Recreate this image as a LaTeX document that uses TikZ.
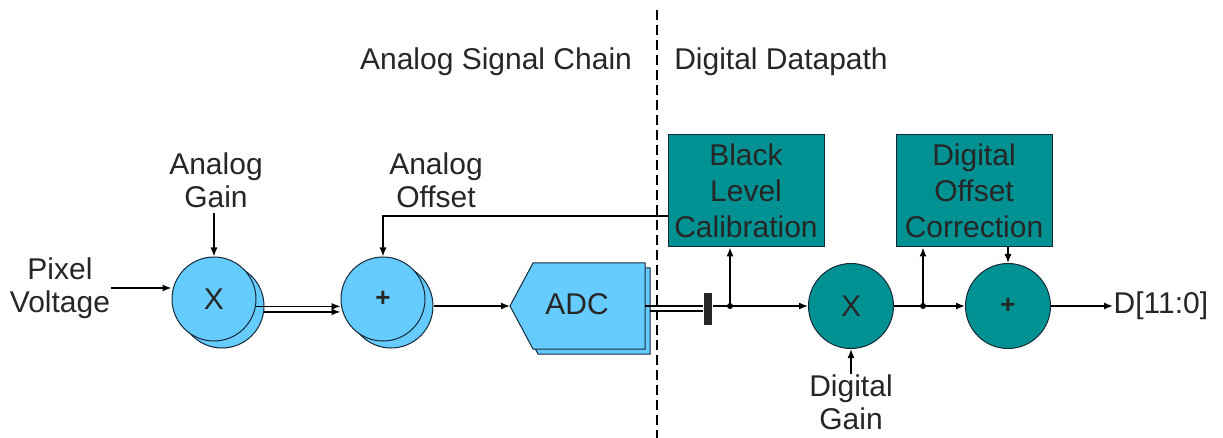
\documentclass[tikz,border=0pt]{standalone}
\usepackage{fontspec}
\setmainfont{Liberation Sans}
\usetikzlibrary{arrows.meta,calc}
\definecolor{lblue}{RGB}{102,204,255}
\definecolor{tealx}{RGB}{0,146,146}
\definecolor{edgec}{RGB}{20,40,55}
\begin{document}
\begin{tikzpicture}[x=1pt,y=-1pt, line width=1.4pt,
  every node/.style={font=\fontsize{30}{33}\selectfont, align=center, inner sep=0pt, text=black!85},
  arr/.style={-{Latex[length=9pt,width=7pt]}},
  acirc/.style={circle, draw=edgec, fill=lblue, minimum size=84pt, line width=1pt},
  dcirc/.style={circle, draw=edgec, fill=tealx, minimum size=85pt, line width=1pt},
  dbox/.style={rectangle, draw=edgec, fill=tealx, minimum width=156pt, minimum height=112pt, line width=1pt, font=\fontsize{30}{36}\selectfont},
  jdot/.style={circle, fill=black, minimum size=6pt, inner sep=0pt},
  plusfont/.style={font=\fontsize{26}{30}\selectfont\bfseries}
]
\path[use as bounding box] (0,0) rectangle (1223,438);

% divider
\draw[line width=1.2pt, dash pattern=on 10pt off 5pt] (657,10) -- (657,438);

% headers
\node[anchor=base] (hA) at (496,70) {Analog Signal Chain};
\node[anchor=base] (hD) at (781,70) {Digital Datapath};

% analog circles (shadow first)
\node[acirc] (gain1s) at (222,306) {};
\node[acirc] (gain1) at (214,299) {X};
\node[acirc] (off1s) at (391,306) {};
\node[acirc, plusfont] (off1) at (383,299) {+};

% ADC
\coordinate (adctip) at (510,306);
\coordinate (adcr) at (645,306);
\coordinate (adcrs) at (650,311);
\fill[lblue, draw=edgec, line width=1pt] (515,311) -- (538,268) -- (650,268) -- (650,354) -- (538,354) -- cycle;
\fill[lblue, draw=edgec, line width=1pt] (adctip) -- (533,263) -- (645,263) -- (645,349) -- (533,349) -- cycle;
\node (adc) at (577,304) {ADC};

% bus bar
\node[fill=black!85, minimum width=8pt, minimum height=31pt] (bus) at (708,309) {};

% digital
\node[dcirc] (x2) at (851,306) {X};
\node[dcirc, plusfont] (plus2) at (1008,306) {+};
\node[dbox] (blc) at (746,191) {Black\\Level\\Calibration};
\node[dbox] (doc) at (974,191) {Digital\\Offset\\Correction};
\node[jdot] (dot1) at (730,306) {};
\node[jdot] (dot2) at (923,306) {};
\node[anchor=west] (out) at (1113,306) {D[11:0]};

% labels
\node (pv) at (60,288) {Pixel\\Voltage};
\node[anchor=south] (ag) at (216,208) {Analog\\Gain};
\node[anchor=south] (ao) at (436,208) {Analog\\Offset};
\node[anchor=north] (dg) at (851,374) {Digital\\Gain};

% connectors
\draw[arr] (pv.east) -- (pv.east -| gain1.west);
\draw[arr] ([yshift=-5pt]ag.south -| gain1.north) -- (gain1.north);
\draw[arr] (gain1.-10) -- (gain1.-10 -| off1.west);
\draw[arr] (gain1s.-8) -- (gain1s.-8 -| off1.west);
\coordinate (fb) at (383,216);
\draw[arr] (fb -| blc.west) -- (fb) -- (off1.north);
\draw[arr] (off1s.east) -- (adctip);
\draw (adcr) -- (adcr -| bus.west);
\draw (adcrs) -- (adcrs -| bus.west);
\draw[arr] (dot1 -| bus.east) -- (x2.west);
\draw[arr] (dot1.center) -- (dot1 |- blc.south);
\draw[arr] (dg.north) -- (x2.south);
\draw[arr] (x2.east) -- (plus2.west);
\draw[arr] (dot2.center) -- (dot2 |- doc.south);
\draw[arr] (plus2.north |- doc.south) -- (plus2.north);
\draw[arr] (plus2.east) -- (out.west);
\end{tikzpicture}
\end{document}
